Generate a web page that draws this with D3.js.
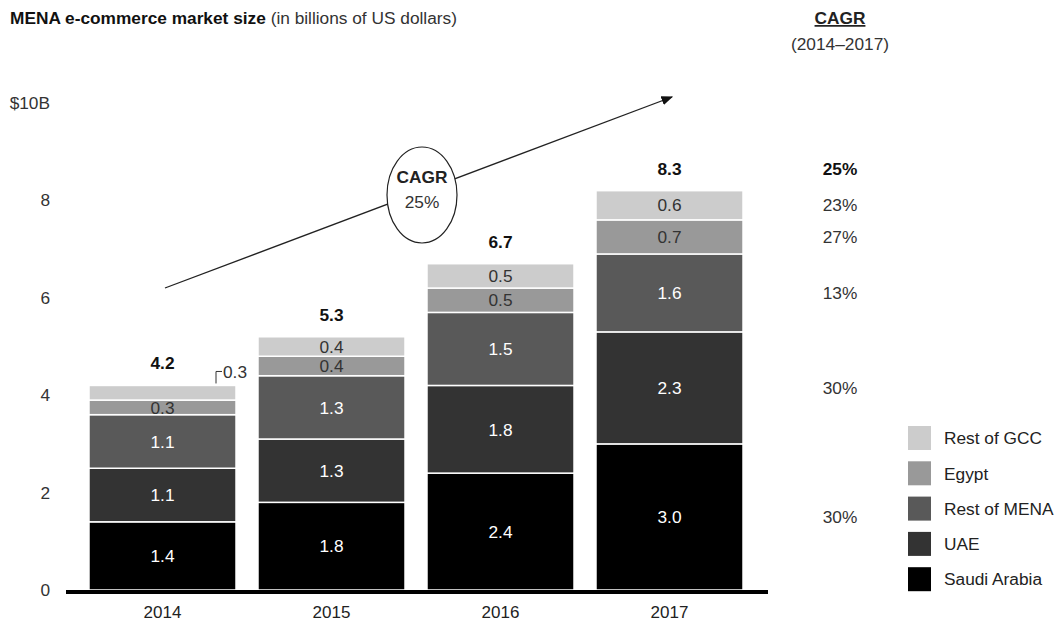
<!DOCTYPE html>
<html>
<head>
<meta charset="utf-8">
<script src="https://cdn.jsdelivr.net/npm/d3@7"></script>
<style>
  body { margin: 0; background: #fff; }
  svg { font-family: "Liberation Sans", Arial, sans-serif; }
</style>
</head>
<body>
<svg width="1057" height="625"></svg>
<script>
// data
var years = ["2014", "2015", "2016", "2017"];
var segments = ["Saudi Arabia", "UAE", "Rest of MENA", "Egypt", "Rest of GCC"];
var saudi = [1.4, 1.8, 2.4, 3.0];
var uae = [1.1, 1.3, 1.8, 2.3];
var restMena = [1.1, 1.3, 1.5, 1.6];
var egypt = [0.3, 0.4, 0.5, 0.7];
var restGcc = [0.3, 0.4, 0.5, 0.6];
var totals = [4.2, 5.3, 6.7, 8.3];
var cagrTotal = "25%";
var cagrBySegment = ["30%", "30%", "13%", "27%", "23%"]; // same order as segments
var yTicks = [0, 2, 4, 6, 8, 10];

var colors = ["#000000", "#333333", "#595959", "#999999", "#cccccc"];
var textColors = ["#fff", "#fff", "#fff", "#333", "#333"];
var fs = 17.3;

var svg = d3.select("svg");

var series = [saudi, uae, restMena, egypt, restGcc];
var table = years.map(function(yr, i) {
  var row = { year: yr };
  segments.forEach(function(s, j) { row[s] = series[j][i]; });
  return row;
});
var stacked = d3.stack().keys(segments)(table);

var y = d3.scaleLinear().domain([0, 10]).range([590, 103]);
var x = d3.scaleBand().domain(years).range([78, 754])
    .paddingInner(0.13).paddingOuter(0.065);

// title
var title = svg.append("text").attr("x", 10).attr("y", 24)
    .attr("font-size", fs).attr("fill", "#111");
title.append("tspan").attr("font-weight", "bold").text("MENA e-commerce market size ");
title.append("tspan").attr("fill", "#333").text("(in billions of US dollars)");

// y axis labels
var yAxis = svg.append("g")
    .attr("transform", "translate(58,0)")
    .call(d3.axisLeft(y).tickValues(yTicks).tickSize(0).tickPadding(8)
      .tickFormat(function(d) { return d === 10 ? "$10B" : d; }));
yAxis.select(".domain").remove();
yAxis.selectAll("text").attr("font-size", fs).attr("fill", "#333")
    .attr("font-family", "Liberation Sans, Arial, sans-serif");

// bars
var layer = svg.append("g").selectAll("g").data(stacked).enter().append("g")
    .attr("fill", function(d, i) { return colors[i]; });

layer.selectAll("rect").data(function(d) { return d; }).enter().append("rect")
    .attr("x", function(d) { return x(d.data.year); })
    .attr("y", function(d) { return y(d[1]); })
    .attr("width", x.bandwidth())
    .attr("height", function(d) { return y(d[0]) - y(d[1]); })
    .attr("stroke", "#fff")
    .attr("stroke-width", 1.5);

// segment labels
stacked.forEach(function(layerData, j) {
  svg.append("g").selectAll("text").data(layerData).enter().append("text")
      .filter(function(d, i) { return !(j === 4 && i === 0); })
      .attr("x", function(d) { return x(d.data.year) + x.bandwidth() / 2; })
      .attr("y", function(d) { return y((d[0] + d[1]) / 2); })
      .attr("dy", "0.36em")
      .attr("text-anchor", "middle")
      .attr("font-size", fs)
      .attr("fill", textColors[j])
      .text(function(d) { return d.data[segments[j]].toFixed(1); });
});

// callout for small 2014 Rest of GCC
var small = stacked[4][0];
var cx = x(years[0]) + x.bandwidth() - 20;
svg.append("path")
    .attr("d", "M" + cx + "," + (y(small[1]) - 2) + "V" + (y(small[1]) - 14) + "H" + (cx + 6))
    .attr("fill", "none").attr("stroke", "#333").attr("stroke-width", 1);
svg.append("text")
    .attr("x", cx + 7).attr("y", y(small[1]) - 14).attr("dy", "0.36em")
    .attr("font-size", fs).attr("fill", "#333")
    .text(restGcc[0].toFixed(1));

// totals
svg.append("g").selectAll("text").data(totals).enter().append("text")
    .attr("x", function(d, i) { return x(years[i]) + x.bandwidth() / 2; })
    .attr("y", function(d, i) { return y(stacked[4][i][1]) - 16; })
    .attr("text-anchor", "middle")
    .attr("font-size", fs).attr("font-weight", "bold").attr("fill", "#111")
    .text(function(d) { return d.toFixed(1); });

// baseline
svg.append("line")
    .attr("x1", 66).attr("x2", 768)
    .attr("y1", y(0) + 2).attr("y2", y(0) + 2)
    .attr("stroke", "#000").attr("stroke-width", 4);

// x labels
svg.append("g").selectAll("text").data(years).enter().append("text")
    .attr("x", function(d) { return x(d) + x.bandwidth() / 2; })
    .attr("y", 618)
    .attr("text-anchor", "middle")
    .attr("font-size", 17).attr("fill", "#222")
    .text(function(d) { return d; });

// CAGR arrow and circle
svg.append("defs").append("marker")
    .attr("id", "arrow").attr("viewBox", "0 0 10 10")
    .attr("refX", 9).attr("refY", 5)
    .attr("markerWidth", 9).attr("markerHeight", 9)
    .attr("orient", "auto")
  .append("path").attr("d", "M0,1L10,5L0,9Z").attr("fill", "#111");

svg.append("line")
    .attr("x1", 165).attr("y1", 288).attr("x2", 672).attr("y2", 97)
    .attr("stroke", "#222").attr("stroke-width", 1.3)
    .attr("marker-end", "url(#arrow)");

svg.append("ellipse")
    .attr("cx", 422).attr("cy", 195).attr("rx", 35).attr("ry", 48)
    .attr("fill", "#fff").attr("stroke", "#222").attr("stroke-width", 1.2);
svg.append("text").attr("x", 422).attr("y", 183).attr("text-anchor", "middle")
    .attr("font-size", fs).attr("font-weight", "bold").attr("fill", "#222").text("CAGR");
svg.append("text").attr("x", 422).attr("y", 208).attr("text-anchor", "middle")
    .attr("font-size", fs).attr("fill", "#333").text(cagrTotal);

// CAGR column
var colX = 840;
svg.append("text").attr("x", colX).attr("y", 24).attr("text-anchor", "middle")
    .attr("font-size", fs).attr("font-weight", "bold").attr("fill", "#222")
    .attr("text-decoration", "underline").text("CAGR");
svg.append("text").attr("x", colX).attr("y", 50).attr("text-anchor", "middle")
    .attr("font-size", fs).attr("fill", "#333").text("(2014\u20132017)");

var last = years.length - 1;
svg.append("text").attr("x", colX).attr("y", y(stacked[4][last][1]) - 16)
    .attr("text-anchor", "middle").attr("font-size", fs).attr("font-weight", "bold")
    .attr("fill", "#111").text(cagrTotal);
svg.append("g").selectAll("text").data(cagrBySegment).enter().append("text")
    .attr("x", colX)
    .attr("y", function(d, j) { var s = stacked[j][last]; return y((s[0] + s[1]) / 2); })
    .attr("dy", "0.36em")
    .attr("text-anchor", "middle").attr("font-size", fs).attr("fill", "#333")
    .text(function(d) { return d; });

// legend
var legend = svg.append("g").selectAll("g").data(segments.slice().reverse()).enter().append("g")
    .attr("transform", function(d, i) { return "translate(908," + (426 + i * 35.3) + ")"; });
legend.append("rect").attr("width", 23).attr("height", 24)
    .attr("fill", function(d) { return colors[segments.indexOf(d)]; });
legend.append("text").attr("x", 36).attr("y", 12).attr("dy", "0.36em")
    .attr("font-size", fs).attr("fill", "#222")
    .text(function(d) { return d; });
</script>
</body>
</html>
